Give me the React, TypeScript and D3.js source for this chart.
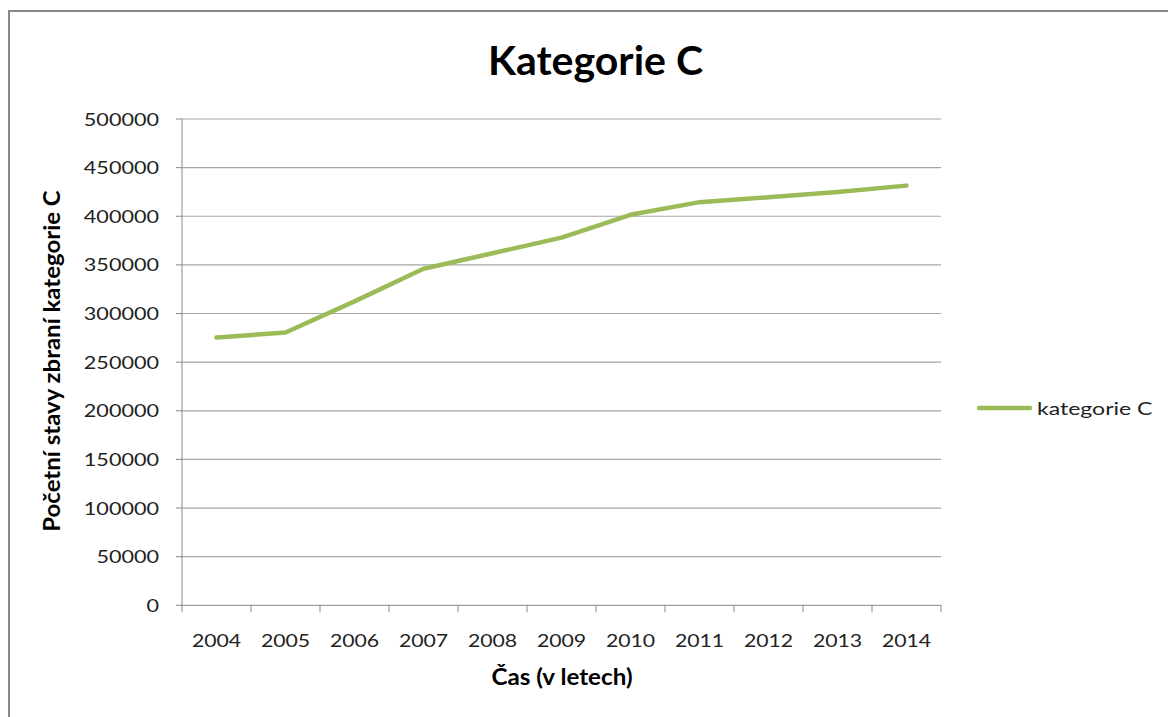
import React from "react";
import * as d3 from "d3";

const years = ["2004", "2005", "2006", "2007", "2008", "2009", "2010", "2011", "2012", "2013", "2014"];
const values = [275300, 280500, 312500, 346000, 362000, 378000, 401500, 414500, 419500, 425000, 431500];
const yTicks = [0, 50000, 100000, 150000, 200000, 250000, 300000, 350000, 400000, 450000, 500000];
const seriesName = "kategorie C";
const title = "Kategorie C";
const xTitle = "Čas (v letech)";
const yTitle = "Početní stavy zbraní kategorie C";

const W = 1168, H = 717;
const left = 182, right = 941, top = 119, bottom = 605.3;
const font = "Lato, 'Open Sans', sans-serif";

type STProps = {
  x: number; y: number; sx?: number; rotate?: number; anchor?: string;
  size: number; bold?: boolean; fill?: string; children: React.ReactNode;
};
function ST({ x, y, sx = 1, rotate = 0, anchor = "start", size, bold, fill = "#222", children }: STProps) {
  return (
    <text
      transform={`translate(${x},${y}) rotate(${rotate}) scale(${sx},1)`}
      textAnchor={anchor}
      fontFamily={font}
      fontWeight={bold ? "bold" : "normal"}
      fontSize={size}
      fill={fill}
    >
      {children}
    </text>
  );
}

export default function App() {
  const x = d3.scaleBand<string>().domain(years).range([left, right]);
  const y = d3.scaleLinear().domain([0, 500000]).range([bottom, top]);
  const cx = (yr: string) => (x(yr) as number) + x.bandwidth() / 2;
  const line = d3.line<number>()
    .x((_, i) => cx(years[i]))
    .y((d) => y(d));
  const tickEdges = years.map((yr) => x(yr) as number).concat([right]);
  return (
    <svg width={W} height={H} style={{ position: "absolute", left: 0, top: 0, background: "#fff" }}>
      <rect x={9} y={11} width={W + 20} height={H + 20} fill="#fff" stroke="#888" strokeWidth={2} />
      <ST x={595.5} y={75} anchor="middle" size={41} bold fill="#000">{title}</ST>
      {yTicks.map((t) => (
        <g key={t}>
          {t > 0 && <line x1={left} x2={right} y1={y(t)} y2={y(t)} stroke="#a6a6a6" strokeWidth={1.2} />}
          <line x1={left - 6} x2={left} y1={y(t)} y2={y(t)} stroke="#888" strokeWidth={1} />
          <ST x={159} y={y(t) + 6.5} anchor="end" sx={1.2} size={18}>{t}</ST>
        </g>
      ))}
      <line x1={left} x2={left} y1={top} y2={bottom} stroke="#888" strokeWidth={1} />
      <line x1={left} x2={right} y1={bottom} y2={bottom} stroke="#888" strokeWidth={1} />
      {tickEdges.map((tx, i) => (
        <line key={i} x1={tx} x2={tx} y1={bottom} y2={bottom + 7} stroke="#888" strokeWidth={1} />
      ))}
      {years.map((yr) => (
        <ST key={yr} x={cx(yr)} y={647} anchor="middle" sx={1.18} size={18}>{yr}</ST>
      ))}
      <ST x={562} y={685} anchor="middle" sx={1.1} size={22} bold fill="#000">{xTitle}</ST>
      <ST x={60} y={361} rotate={-90} anchor="middle" sx={1.09} size={22} bold fill="#000">{yTitle}</ST>
      <path d={line(values) || ""} fill="none" stroke="#9BBB59" strokeWidth={4.5} strokeLinejoin="round" strokeLinecap="round" />
      <line x1={979} x2={1030} y1={408} y2={408} stroke="#9BBB59" strokeWidth={4.5} strokeLinecap="round" />
      <ST x={1037} y={415} sx={1.28} size={18}>{seriesName}</ST>
    </svg>
  );
}
